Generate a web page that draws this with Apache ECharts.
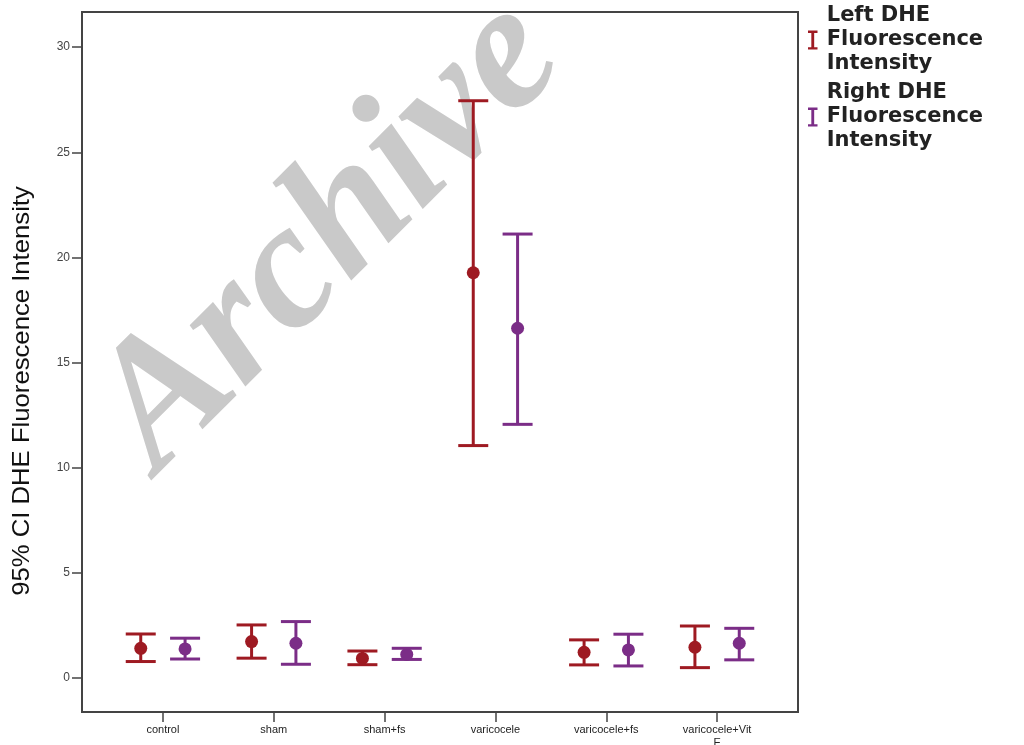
<!DOCTYPE html>
<html>
<head>
<meta charset="utf-8">
<script src="https://cdn.jsdelivr.net/npm/echarts@6/dist/echarts.min.js"></script>
<style>
html, body { margin: 0; padding: 0; background: #fff; }
#chart { width: 1024px; height: 745px; }
</style>
</head>
<body>
<div id="chart"></div>
<script>
// groups on the x axis
const groups = ["control", "sham", "sham+fs", "varicocele", "varicocele+fs", "varicocele+Vit\nE"];

// left DHE: mean and 95% CI
const leftMean = [1.41, 1.73, 0.93, 19.27, 1.22, 1.46];
const leftLow = [0.78, 0.94, 0.63, 11.05, 0.62, 0.49];
const leftHigh = [2.09, 2.52, 1.28, 27.45, 1.81, 2.47];

// right DHE: mean and 95% CI
const rightMean = [1.38, 1.65, 1.12, 16.63, 1.33, 1.65];
const rightLow = [0.9, 0.65, 0.88, 12.06, 0.57, 0.86];
const rightHigh = [1.89, 2.68, 1.41, 21.11, 2.08, 2.36];

const yTicks = [0, 5, 10, 15, 20, 25, 30];
const xTicks = [0, 1, 2, 3, 4, 5];

const RED = "#9e1a22";
const PURPLE = "#7b2d87";

function errorBar(color) {
  return function (params, api) {
    const x = api.value(0);
    const lo = api.coord([x, api.value(1)]);
    const hi = api.coord([x, api.value(2)]);
    const mid = api.coord([x, api.value(3)]);
    const half = 15;
    const style = { stroke: color, lineWidth: 3 };
    return {
      type: "group",
      children: [
        { type: "line", shape: { x1: lo[0], y1: lo[1], x2: hi[0], y2: hi[1] }, style: style },
        { type: "line", shape: { x1: hi[0] - half, y1: hi[1], x2: hi[0] + half, y2: hi[1] }, style: style },
        { type: "line", shape: { x1: lo[0] - half, y1: lo[1], x2: lo[0] + half, y2: lo[1] }, style: style },
        { type: "circle", shape: { cx: mid[0], cy: mid[1], r: 6.5 }, style: { fill: color } },
      ],
    };
  };
}

const iBeam = "path://M0,0 L10,0 L10,2.5 L6.5,2.5 L6.5,17.5 L10,17.5 L10,20 L0,20 L0,17.5 L3.5,17.5 L3.5,2.5 L0,2.5 Z";

let myChart = echarts.init(document.getElementById("chart"));
myChart.setOption({
  animation: false,
  backgroundColor: "#fff",
  grid: {
    left: 82,
    right: 226,
    top: 12,
    bottom: 33,
    outerBoundsMode: "none",
    containLabel: false,
    show: true,
    borderColor: "#444",
    borderWidth: 2,
  },
  legend: {
    orient: "vertical",
    left: 808,
    top: 4,
    padding: 0,
    itemGap: 5,
    itemWidth: 10,
    itemHeight: 19,
    icon: iBeam,
    formatter: (name) => name.replace(" Fluorescence ", "\nFluorescence\n"),
    textStyle: {
      fontFamily: "DejaVu Sans",
      fontWeight: "bold",
      fontSize: 21,
      lineHeight: 24,
      color: "#222",
      padding: [0, 0, 0, 4],
    },
    data: ["Left DHE Fluorescence Intensity", "Right DHE Fluorescence Intensity"],
  },
  graphic: [
    {
      type: "text",
      z: -10,
      x: 330,
      y: 236,
      rotation: (45 * Math.PI) / 180,
      style: {
        text: "Archive",
        font: 'italic bold 180px "Liberation Serif"',
        fill: "#c9c9c9",
        align: "center",
        verticalAlign: "middle",
      },
    },
    {
      type: "text",
      x: 22,
      y: 391,
      rotation: Math.PI / 2,
      scaleX: 1.07,
      style: {
        text: "95% CI DHE Fluorescence Intensity",
        font: '24px "Liberation Sans"',
        fill: "#111",
        align: "center",
        verticalAlign: "middle",
      },
    },
  ],
  xAxis: {
    type: "value",
    min: -0.73,
    max: 5.73,
    axisLine: { show: false, onZero: false },
    splitLine: { show: false },
    axisTick: {
      customValues: xTicks,
      length: 10,
      lineStyle: { color: "#444", width: 1.5 },
    },
    axisLabel: {
      customValues: xTicks,
      formatter: (v) => groups[Math.round(v)],
      fontFamily: "Liberation Sans",
      fontSize: 11,
      color: "#222",
      margin: 11,
      lineHeight: 13,
    },
  },
  yAxis: {
    type: "value",
    min: -1.62,
    max: 31.67,
    axisLine: { show: false, onZero: false },
    splitLine: { show: false },
    axisTick: {
      customValues: yTicks,
      length: 10,
      lineStyle: { color: "#444", width: 1.5 },
    },
    axisLabel: {
      customValues: yTicks,
      fontFamily: "Liberation Sans",
      fontSize: 12,
      color: "#444",
      margin: 12,
    },
  },
  series: [
    {
      name: "Left DHE Fluorescence Intensity",
      type: "custom",
      itemStyle: { color: RED },
      renderItem: errorBar(RED),
      encode: { x: 0, y: [1, 2, 3] },
      data: groups.map((g, i) => [i - 0.2, leftLow[i], leftHigh[i], leftMean[i]]),
    },
    {
      name: "Right DHE Fluorescence Intensity",
      type: "custom",
      itemStyle: { color: PURPLE },
      renderItem: errorBar(PURPLE),
      encode: { x: 0, y: [1, 2, 3] },
      data: groups.map((g, i) => [i + 0.2, rightLow[i], rightHigh[i], rightMean[i]]),
    },
  ],
});
</script>
</body>
</html>
